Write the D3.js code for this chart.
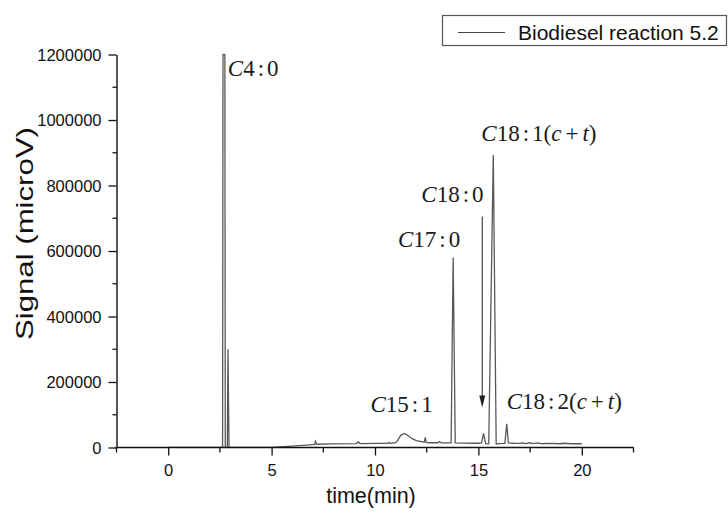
<!DOCTYPE html>
<html>
<head>
<meta charset="utf-8">
<script src="https://cdn.jsdelivr.net/npm/d3@7"></script>
<style>
  body { margin: 0; background: #fff; }
  svg { display: block; }
</style>
</head>
<body>
<svg id="chart" width="728" height="515"></svg>
<script>
// Chromatogram trace: retention time (min) and detector signal (microV)
const times = [
  0, 2.60, 2.63, 2.65, 2.74, 2.76, 2.80, 2.86, 2.89, 2.94, 3.00,
  5.00, 6.00, 7.00, 7.08, 7.12, 7.18, 8.00, 9.10, 9.19, 9.28,
  10.20, 10.60, 10.67, 10.75, 11.00, 11.10, 11.25, 11.43, 11.60, 11.80, 12.00, 12.30,
  12.38, 12.43, 12.48, 12.70, 13.05, 13.12, 13.20, 13.68, 13.78, 13.88,
  14.30, 15.00, 15.15, 15.25, 15.35, 15.50, 15.72, 15.86, 16.00, 16.28, 16.37, 16.45,
  16.70, 17.00, 17.10, 17.30, 17.48, 17.60, 17.87, 18.00, 18.40, 19.00, 19.10, 19.50, 20.00
];
const signals = [
  0, 0, 0, 1200000, 1200000, 0, 0, 0, 300000, 0, 0,
  0, 4000, 9000, 9500, 19000, 10000, 11000, 12000, 17000, 12000,
  12500, 12500, 15000, 12500, 15000, 22000, 38000, 43000, 36000, 27000, 21000, 17000,
  16000, 31000, 15000, 14500, 14500, 18000, 14000, 14000, 580000, 14000,
  13500, 13000, 14000, 43000, 12000, 11000, 893000, 11000, 12000, 12500, 72000, 14000,
  13000, 12500, 14000, 12000, 14500, 12000, 14000, 12000, 12500, 11500, 13000, 11500, 11500
];

// Axis ticks
const xTicks = [0, 5, 10, 15, 20];
const xMinorTicks = [-2.5, 2.5, 7.5, 12.5, 17.5, 22.5];
const yTicks = [0, 200000, 400000, 600000, 800000, 1000000, 1200000];
const yMinorTicks = [100000, 300000, 500000, 700000, 900000, 1100000];

// Annotated peaks
const peakNames = ["C4:0", "C15:1", "C17:0", "C18:0", "C18:1(c+t)", "C18:2(c+t)"];
const peakTimes = [2.69, 11.43, 13.78, 15.25, 15.72, 16.37];
const peakSignals = [1200000, 43000, 580000, 43000, 893000, 72000];

const legendLabel = "Biodiesel reaction 5.2";
const xTitle = "time(min)";
const yTitle = "Signal (microV)";

const svg = d3.select("#chart");
const plotLeft = 116.5, plotRight = 633.5, plotTop = 54.5, plotBottom = 447.5;

const x = d3.scaleLinear().domain([-2.5, 22.5]).range([plotLeft, plotRight]);
const y = d3.scaleLinear().domain([0, 1200000]).range([plotBottom, plotTop]);

const sans = "Arial, 'Liberation Sans', Helvetica, sans-serif";
const serif = "'Times New Roman', 'Liberation Serif', serif";

// Trace, clipped to the plotting area
svg.append("clipPath").attr("id", "plot-clip")
  .append("rect").attr("x", plotLeft).attr("y", plotTop - 1)
  .attr("width", plotRight - plotLeft).attr("height", plotBottom - plotTop + 1);

const data = times.map((t, i) => [t, signals[i]]);
svg.append("path")
  .datum(data)
  .attr("clip-path", "url(#plot-clip)")
  .attr("fill", "none")
  .attr("stroke", "#585858")
  .attr("stroke-width", 1.3)
  .attr("stroke-linejoin", "miter")
  .attr("d", d3.line().x(d => x(d[0])).y(d => y(d[1])));

// Bottom axis
const xAxis = svg.append("g").attr("transform", `translate(0,${plotBottom})`);
xAxis.call(d3.axisBottom(x).tickValues(xTicks).tickSize(8).tickSizeOuter(0).tickFormat(d3.format("d")));
xAxis.append("g").selectAll("line").data(xMinorTicks).join("line")
  .attr("x1", d => x(d)).attr("x2", d => x(d)).attr("y1", 0).attr("y2", 5);
xAxis.select(".domain").attr("d", `M${plotLeft - 1},0H${plotRight}`);

// Left axis
const yAxis = svg.append("g").attr("transform", `translate(${plotLeft},0)`);
yAxis.call(d3.axisLeft(y).tickValues(yTicks).tickSize(8).tickSizeOuter(0).tickFormat(d3.format("d")));
yAxis.append("g").selectAll("line").data(yMinorTicks).join("line")
  .attr("x1", 0).attr("x2", -4).attr("y1", d => y(d)).attr("y2", d => y(d));

[xAxis, yAxis].forEach(g => {
  g.selectAll(".domain").attr("stroke", "#111").attr("stroke-width", 1.4);
  g.selectAll("line").attr("stroke", "#111").attr("stroke-width", 1.3);
  g.selectAll("text").attr("fill", "#111").style("font-family", sans).style("font-size", "16.5px");
});
xAxis.selectAll(".tick text").attr("dy", "1.05em");
yAxis.selectAll(".tick text").attr("x", -15).attr("dy", "0.36em");

// Axis titles
svg.append("text")
  .attr("x", x(10) - 4).attr("y", 503)
  .attr("text-anchor", "middle")
  .style("font-family", sans).style("font-size", "21.5px").attr("fill", "#111")
  .text(xTitle);

svg.append("text")
  .attr("transform", "translate(33,233.5) rotate(-90)")
  .attr("text-anchor", "middle")
  .attr("textLength", 213)
  .attr("lengthAdjust", "spacingAndGlyphs")
  .style("font-family", sans).style("font-size", "24px").attr("fill", "#111")
  .text(yTitle);

// Peak labels: letters in italic, digits upright, spaced operators
function addLabel(name, px, py, anchor) {
  const t = svg.append("text")
    .attr("x", px).attr("y", py)
    .attr("text-anchor", anchor)
    .style("font-family", serif).style("font-size", "23px").attr("fill", "#1a1a1a");
  let gap = 0;
  for (const ch of name) {
    const isLetter = /[A-Za-z]/.test(ch);
    const spaced = ch === ":" || ch === "+";
    const s = t.append("tspan")
      .style("font-style", isLetter ? "italic" : "normal")
      .text(ch);
    const pad = ch === "+" ? 4 : 3;
    if (spaced) s.attr("dx", pad);
    else if (gap) s.attr("dx", gap);
    gap = spaced ? pad : 0;
  }
  return t;
}

// Offsets of each label from its peak apex (pixels)
const labelPlacement = [
  { dx: 4, dy: 21, anchor: "start" },
  { dx: -3, dy: -21, anchor: "middle" },
  { dx: 7, dy: -11, anchor: "end" },
  { dx: 0, dy: -231, anchor: "end" },
  { dx: -12, dy: -14, anchor: "start" },
  { dx: 0, dy: -15, anchor: "start" }
];
peakNames.forEach((name, i) => {
  const p = labelPlacement[i];
  addLabel(name, x(peakTimes[i]) + p.dx, y(peakSignals[i]) + p.dy, p.anchor);
});

// Arrow pointing down to the C18:0 peak
const ax = x(peakTimes[3]) - 1.3;
const tipY = y(peakSignals[3]) - 26;
svg.append("line")
  .attr("x1", ax).attr("x2", ax)
  .attr("y1", tipY - 191).attr("y2", tipY - 10)
  .attr("stroke", "#333").attr("stroke-width", 1.1);
svg.append("path")
  .attr("d", `M${ax - 3},${tipY - 12}L${ax + 3},${tipY - 12}L${ax},${tipY}Z`)
  .attr("fill", "#222");

// Legend
const lg = svg.append("g");
lg.append("rect")
  .attr("x", 442.5).attr("y", 15.5).attr("width", 284).attr("height", 30)
  .attr("fill", "#fff").attr("stroke", "#555").attr("stroke-width", 1.2);
lg.append("line")
  .attr("x1", 458).attr("x2", 505).attr("y1", 32.5).attr("y2", 32.5)
  .attr("stroke", "#444").attr("stroke-width", 1.2);
lg.append("text")
  .attr("x", 518).attr("y", 39.5)
  .style("font-family", sans).style("font-size", "21px").attr("fill", "#111")
  .text(legendLabel);
</script>
</body>
</html>
